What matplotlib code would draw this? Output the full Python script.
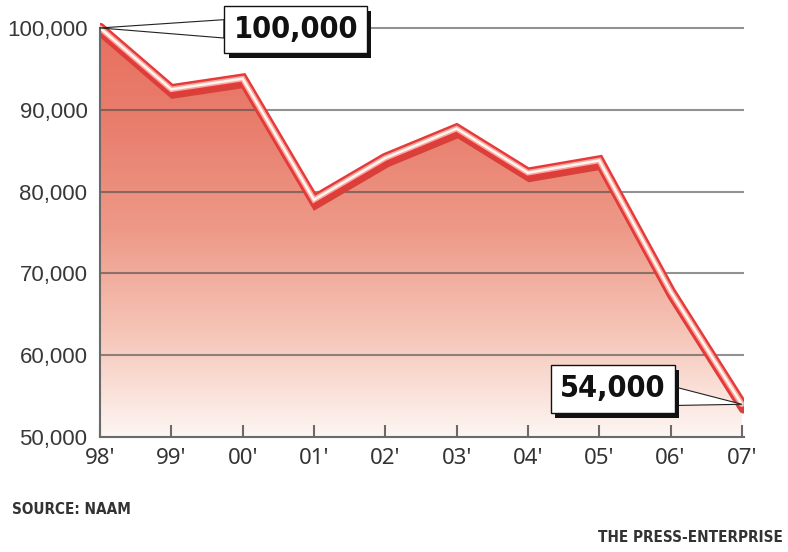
import numpy as np
import matplotlib
matplotlib.use("Agg")
import matplotlib.pyplot as plt
import matplotlib.patheffects as pe
from matplotlib.colors import LinearSegmentedColormap
from matplotlib.ticker import FuncFormatter
from matplotlib.transforms import offset_copy

years = ["98'", "99'", "00'", "01'", "02'", "03'", "04'", "05'", "06'", "07'"]
members = [100000, 92500, 93800, 79000, 84100, 87700, 82300, 83800, 67800, 54000]
grid_levels = [50000, 60000, 70000, 80000, 90000, 100000]

plt.rcParams["font.family"] = ["Liberation Sans", "DejaVu Sans"]
narrow = ["Noto Sans", "DejaVu Sans"]
narrow_bold = "DejaVu Sans"

fig = plt.figure(figsize=(7.88, 5.52), dpi=100)
ax = fig.add_axes([100 / 788, 115 / 552, 644 / 788, 425.4 / 552])
x = np.arange(len(years))

ax.set_xlim(0, 9.03)
ax.set_ylim(50000, 102000)

# gradient fill under the line, clipped to the area polygon
fade = LinearSegmentedColormap.from_list(
    "fade", ["#fdf6f3", "#f6c6b8", "#ee9a89", "#e97f6e", "#e8705f"])
grad = np.linspace(0, 1, 256).reshape(-1, 1)
area = ax.fill_between(x, members, 50000, color="none", lw=0)
img = ax.imshow(grad, cmap=fade, origin="lower", aspect="auto",
                extent=[0, 9, 50000, 100000], zorder=1)
img.set_clip_path(area.get_paths()[0], transform=ax.transData)

# horizontal rules
for lvl in grid_levels[1:]:
    ax.axhline(lvl, color="#4a4a4a", lw=1.5, alpha=0.6, zorder=2)

# the line: drop shadow, red tube, pale highlight
shadow = offset_copy(ax.transData, fig=fig, x=1.2, y=-3.2, units="points")
ax.plot(x, members, color="#d8403a", lw=7, transform=shadow,
        solid_capstyle="round", solid_joinstyle="miter", zorder=3)
ax.plot(x, members, color="#e6393a", lw=7.5,
        solid_capstyle="round", solid_joinstyle="miter", zorder=4)
ax.plot(x, members, color="#f7a8a0", lw=4,
        solid_capstyle="round", solid_joinstyle="miter", zorder=5)
ax.plot(x, members, color="#fff6ee", lw=1.8,
        solid_capstyle="round", solid_joinstyle="miter", zorder=6)

# axes styling
for side in ["top", "right"]:
    ax.spines[side].set_visible(False)
ax.spines["left"].set_bounds(50000, 100000)
for side in ["left", "bottom"]:
    ax.spines[side].set_color("#6a6a6a")
    ax.spines[side].set_linewidth(1.5)
    ax.spines[side].set_zorder(7)

ax.set_xticks(x, years)
ax.tick_params(axis="x", direction="in", length=9, width=1.5,
               color="#6a6a6a", pad=8, labelsize=16, labelcolor="#333333")
for lab in ax.get_xticklabels():
    lab.set_family(narrow)
    lab.set_fontstretch("condensed")
ax.set_yticks(grid_levels)
ax.yaxis.set_major_formatter(FuncFormatter(lambda v, p: f"{int(v):,}"))
ax.tick_params(axis="y", length=0, pad=9, labelsize=16, labelcolor="#383838")


def callout(i, dx, dy):
    ann = ax.annotate(
        f"{members[i]:,}", xy=(x[i], members[i]), xytext=(dx, dy),
        textcoords="offset points", ha="center", va="center",
        fontsize=22, fontweight="bold", fontstretch="condensed",
        family=narrow_bold, color="#111111",
        bbox=dict(boxstyle="square,pad=0.3", fc="white", ec="#111111", lw=1),
        arrowprops=dict(arrowstyle="wedge,tail_width=0.6,shrink_factor=0.5",
                        fc="white", ec="#222222", lw=0.8, shrinkA=0, shrinkB=0),
        zorder=10)
    ann.get_bbox_patch().set_path_effects(
        [pe.SimplePatchShadow(offset=(3, -3.5), shadow_rgbFace="#111111", alpha=1),
         pe.Normal()])
    return ann


callout(0, 141, -1)
callout(9, -93, 11)

fig.text(12 / 788, 1 - 510 / 552, "SOURCE: NAAM", family=narrow_bold,
         fontstretch="condensed", fontweight="bold", fontsize=11,
         color="#333333", va="center")
fig.text(783 / 788, 1 - 537 / 552, "THE PRESS-ENTERPRISE", family=narrow_bold,
         fontstretch="condensed", fontweight="bold", fontsize=11,
         color="#333333", va="center", ha="right")

fig.savefig("out.png", dpi=100)
